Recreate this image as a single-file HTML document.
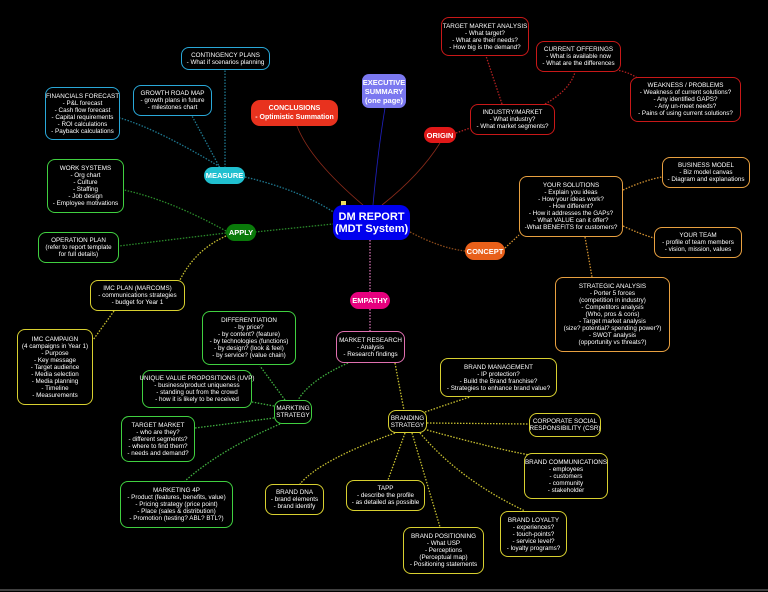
<!DOCTYPE html>
<html><head><meta charset="utf-8"><style>
body{margin:0;background:#000;width:768px;height:592px;overflow:hidden;position:relative;font-family:"Liberation Sans",sans-serif}
.n{position:absolute;box-sizing:border-box;border:1.6px solid;border-radius:8px;color:#fff;font-size:6.3px;line-height:7px;text-align:center;display:flex;align-items:center;justify-content:center;background:#000;white-space:nowrap}
.f{border:none;font-weight:bold;font-size:7.5px;line-height:9px;border-radius:9px}
.b{border-color:#29a8d8}.g{border-color:#40d040}.y{border-color:#d8d030}.r{border-color:#c81818}.o{border-color:#e8a040}.p{border-color:#e070b0}
svg{position:absolute;left:0;top:0}
</style></head><body>
<svg width="768" height="592" fill="none" stroke-width="1.3" stroke-dasharray="1.5 1.5">
<g stroke="#1e7890"><path d="M225 170 Q160 130 120 118"/><path d="M220 168 Q205 140 192 116"/><path d="M225 168 L225 70"/><path d="M245 177 Q300 190 335 213"/></g>
<g stroke="#2a8a2a"><path d="M226 231 Q170 200 124 190"/><path d="M226 233 L119 246"/><path d="M255 232 L333 224"/></g>
<g stroke="#c8c030"><path d="M226 236 Q195 250 180 280"/><path d="M114 311 L93 340"/></g>
<path d="M363 205 Q310 160 297 126" stroke="#8a2a1a" stroke-dasharray="none" stroke-width="0.8"/>
<path d="M373 205 Q378 150 385 108" stroke="#2020c0" stroke-dasharray="none" stroke-width="0.8"/>
<path d="M382 205 Q420 175 440 143" stroke="#8a2a1a" stroke-dasharray="none" stroke-width="0.8"/>
<g stroke="#b02020"><path d="M456 133 L470 128"/><path d="M502 104 L486 56"/><path d="M545 104 Q570 90 575 72"/><path d="M616 70 Q630 72 640 80"/></g>
<g stroke="#8a4a1a"><path d="M410 232 Q440 248 465 251"/></g>
<g stroke="#d09030"><path d="M505 248 L519 235"/><path d="M623 190 Q645 180 662 177"/><path d="M623 226 Q640 234 654 238"/><path d="M585 237 L592 277"/></g>
<g stroke="#d070b0"><path d="M370 240 L370 292"/><path d="M370 309 L370 331"/></g>
<g stroke="#40b040"><path d="M348 363 Q310 380 298 400"/><path d="M285 400 L260 366"/><path d="M274 406 L252 402"/><path d="M274 418 L195 428"/><path d="M280 424 Q220 450 185 481"/></g>
<g stroke="#c8c030"><path d="M395 363 Q400 390 404 410"/><path d="M425 412 Q460 400 470 397"/><path d="M427 423 L529 424"/><path d="M427 430 Q500 450 530 455"/><path d="M420 433 Q460 480 525 511"/><path d="M412 433 L440 527"/><path d="M405 433 L388 480"/><path d="M395 433 Q320 460 300 484"/></g>
<path d="M0 590 L768 590" stroke="#666" stroke-dasharray="none"/>
</svg>
<div style="position:absolute;left:341px;top:201px;width:5px;height:5px;background:#f0e060"></div>

<div class="n b" style="left:181px;top:47px;width:89px;height:23px">CONTINGENCY PLANS<br>- What if scenarios planning</div>
<div class="n b" style="left:133px;top:85px;width:79px;height:31px">GROWTH ROAD MAP<br>- growth plans in future<br>- milestones chart</div>
<div class="n b" style="left:45px;top:87px;width:75px;height:53px">FINANCIALS FORECAST<br>- P&amp;L forecast<br>- Cash flow forecast<br>- Capital requirements<br>- ROI calculations<br>- Payback calculations</div>
<div class="n f" style="left:251px;top:100px;width:87px;height:26px;background:#e8321e;font-size:7px">CONCLUSIONS<br>- Optimistic Summation</div>
<div class="n f" style="left:362px;top:74px;width:44px;height:34px;background:#7b78f0;border-radius:7px">EXECUTIVE<br>SUMMARY<br>(one page)</div>
<div class="n f" style="left:204px;top:167px;width:41px;height:17px;background:#20c0d0">MEASURE</div>
<div class="n g" style="left:47px;top:159px;width:77px;height:54px">WORK SYSTEMS<br>- Org chart<br>- Culture<br>- Staffing<br>- Job design<br>- Employee motivations</div>
<div class="n f" style="left:226px;top:224px;width:30px;height:17px;background:#0a7a0a">APPLY</div>
<div class="n g" style="left:38px;top:232px;width:81px;height:31px">OPERATION PLAN<br>(refer to report template<br>for full details)</div>
<div class="n f" style="left:333px;top:205px;width:77px;height:35px;background:#0000ee;font-size:11px;line-height:12px;border-radius:10px">DM REPORT<br>(MDT System)</div>
<div class="n y" style="left:90px;top:280px;width:95px;height:31px">IMC PLAN (MARCOMS)<br>- communications strategies<br>- budget for Year 1</div>
<div class="n y" style="left:17px;top:329px;width:76px;height:76px">IMC CAMPAIGN<br>(4 campaigns in Year 1)<br>- Purpose<br>- Key message<br>- Target audience<br>- Media selection<br>- Media planning<br>- Timeline<br>- Measurements</div>
<div class="n f" style="left:350px;top:292px;width:40px;height:17px;background:#e6007e">EMPATHY</div>
<div class="n g" style="left:202px;top:311px;width:94px;height:54px">DIFFERENTIATION<br>- by price?<br>- by content? (feature)<br>- by technologies (functions)<br>- by design? (look &amp; feel)<br>- by service? (value chain)</div>
<div class="n p" style="left:336px;top:331px;width:69px;height:32px">MARKET RESEARCH<br>- Analysis<br>- Research findings</div>
<div class="n g" style="left:142px;top:370px;width:110px;height:38px">UNIQUE VALUE PROPOSITIONS (UVP)<br>- business/product uniqueness<br>- standing out from the crowd<br>- how it is likely to be received</div>
<div class="n g" style="left:274px;top:400px;width:38px;height:24px">MARKTING<br>STRATEGY</div>
<div class="n g" style="left:121px;top:416px;width:74px;height:46px">TARGET MARKET<br>- who are they?<br>- different segments?<br>- where to find them?<br>- needs and demand?</div>
<div class="n g" style="left:120px;top:481px;width:113px;height:47px">MARKETING 4P<br>- Product (features, benefits, value)<br>- Pricing strategy (price point)<br>- Place (sales &amp; distribution)<br>- Promotion (testing? ABL? BTL?)</div>
<div class="n y" style="left:265px;top:484px;width:59px;height:31px">BRAND DNA<br>- brand elements<br>- brand identify</div>
<div class="n y" style="left:346px;top:480px;width:79px;height:31px">TAPP<br>- describe the profile<br>- as detailed as possible</div>
<div class="n y" style="left:388px;top:410px;width:39px;height:23px">BRANDING<br>STRATEGY</div>
<div class="n y" style="left:440px;top:358px;width:117px;height:39px">BRAND MANAGEMENT<br>- IP protection?<br>- Build the Brand franchise?<br>- Strategies to enhance brand value?</div>
<div class="n y" style="left:529px;top:413px;width:72px;height:24px">CORPORATE SOCIAL<br>RESPONSIBILITY (CSR)</div>
<div class="n y" style="left:524px;top:453px;width:84px;height:46px">BRAND COMMUNICATIONS<br>- employees<br>- customers<br>- community<br>- stakeholder</div>
<div class="n y" style="left:500px;top:511px;width:67px;height:46px">BRAND LOYALTY<br>- experiences?<br>- touch-points?<br>- service level?<br>- loyalty programs?</div>
<div class="n y" style="left:403px;top:527px;width:81px;height:47px">BRAND POSITIONING<br>- What USP<br>- Perceptions<br>(Perceptual map)<br>- Positioning statements</div>
<div class="n r" style="left:441px;top:17px;width:88px;height:39px">TARGET MARKET ANALYSIS<br>- What target?<br>- What are their needs?<br>- How big is the demand?</div>
<div class="n r" style="left:536px;top:41px;width:85px;height:31px">CURRENT OFFERINGS<br>- What is available now<br>- What are the differences</div>
<div class="n r" style="left:630px;top:77px;width:111px;height:45px">WEAKNESS / PROBLEMS<br>- Weakness of current solutions?<br>- Any identified GAPS?<br>- Any un-meet needs?<br>- Pains of using current solutions?</div>
<div class="n r" style="left:470px;top:104px;width:85px;height:31px">INDUSTRY/MARKET<br>- What industry?<br>- What market segments?</div>
<div class="n f" style="left:424px;top:127px;width:32px;height:16px;background:#e01818">ORIGIN</div>
<div class="n o" style="left:519px;top:176px;width:104px;height:61px">YOUR SOLUTIONS<br>- Explain you ideas<br>- How your ideas work?<br>- How different?<br>- How it addresses the GAPs?<br>- What VALUE can it offer?<br>-What BENEFITS for customers?</div>
<div class="n o" style="left:662px;top:157px;width:88px;height:31px">BUSINESS MODEL<br>- Biz model canvas<br>- Diagram and explanations</div>
<div class="n o" style="left:654px;top:227px;width:88px;height:31px">YOUR TEAM<br>- profile of team members<br>- vision, mission, values</div>
<div class="n f" style="left:465px;top:242px;width:40px;height:18px;background:#e8601a">CONCEPT</div>
<div class="n o" style="left:555px;top:277px;width:115px;height:75px">STRATEGIC ANALYSIS<br>- Porter 5 forces<br>(competition in industry)<br>- Competitors analysis<br>(Who, pros &amp; cons)<br>- Target market analysis<br>(size? potential? spending power?)<br>- SWOT analysis<br>(opportunity vs threats?)</div>
</body></html>
